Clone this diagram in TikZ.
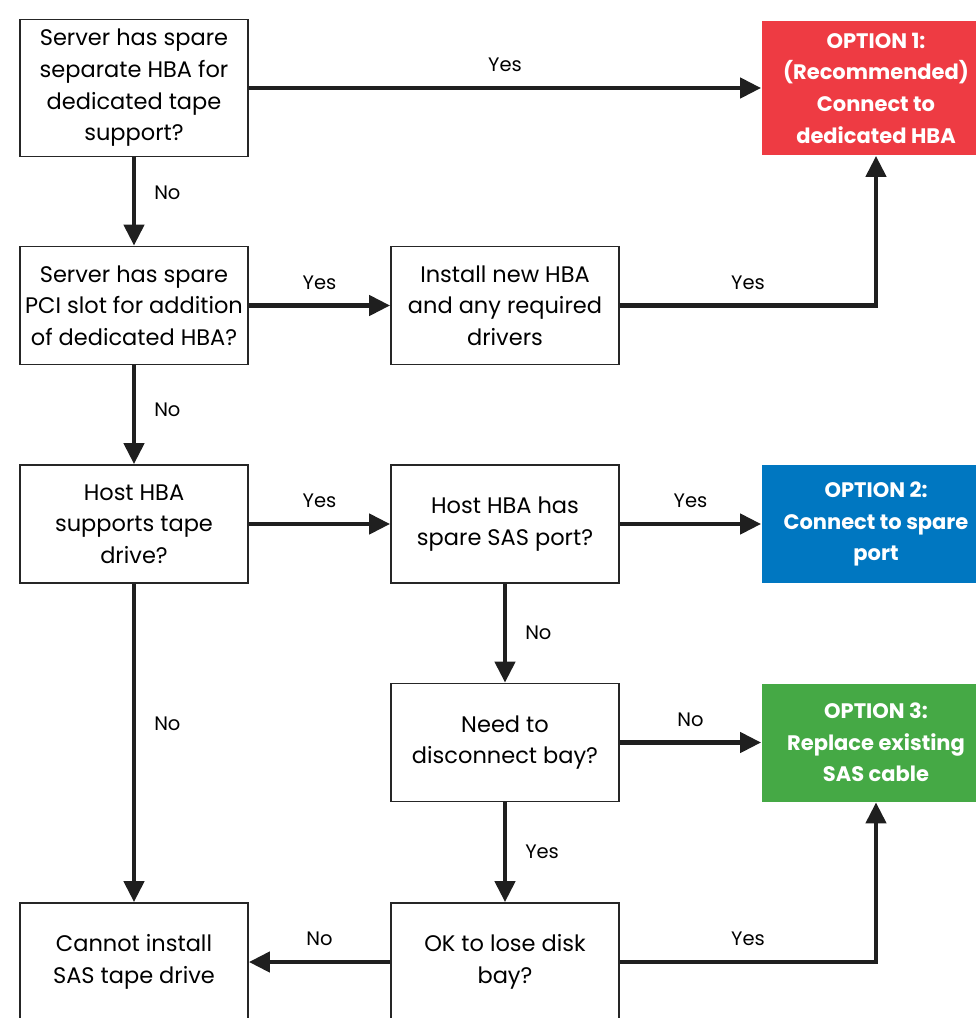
\documentclass[tikz,border=0pt]{standalone}
\usepackage{fontspec}
\setmainfont{Poppins}
\usetikzlibrary{arrows.meta}

\definecolor{optred}{HTML}{EE3B43}
\definecolor{optblue}{HTML}{0077C1}
\definecolor{optgreen}{HTML}{45A945}

\begin{document}
\begin{tikzpicture}[x=1pt,y=-1pt,
	box/.style={draw=black!85,line width=1.8pt,fill=white,minimum width=228pt,minimum height=118pt,align=center,inner sep=0pt,font=\fontsize{22.5}{31.7}\selectfont},
	option/.style={box,draw=none,text=white,font=\fontsize{21}{31.7}\selectfont\bfseries},
	flow/.style={line width=4.5pt,draw=black!88,-{Triangle[length=21pt,width=20pt]}},
	lbl/.style={font=\fontsize{19.5}{20}\selectfont,inner sep=0pt}]
	\useasboundingbox (0,0) rectangle (976,1018);
	% question boxes
	\node[box,minimum height=137pt] (srvhba) at (134,88) {Server has spare\\separate HBA for\\dedicated tape\\support?};
	\node[box] (pcislot) at (134,305.5) {Server has spare\\PCI slot for addition\\of dedicated HBA?};
	\node[box] (install) at (505,305.5) {Install new HBA\\and any required\\drivers};
	\node[box] (hostsup) at (134,524) {Host HBA\\supports tape\\drive?};
	\node[box] (spare) at (505,524) {Host HBA has\\spare SAS port?};
	\node[box] (disc) at (505,742.5) {Need to\\disconnect bay?};
	\node[box] (cannot) at (134,962) {Cannot install\\SAS tape drive};
	\node[box] (okbay) at (505,962) {OK to lose disk\\bay?};
	% options
	\node[option,fill=optred,minimum height=134pt] (opt1) at (876,88) {OPTION 1:\\(Recommended)\\Connect to\\dedicated HBA};
	\node[option,fill=optblue] (opt2) at (876,524) {OPTION 2:\\Connect to spare\\port};
	\node[option,fill=optgreen] (opt3) at (876,742.5) {OPTION 3:\\Replace existing\\SAS cable};
	% connectors
	\draw[flow] (srvhba) -- node[lbl,above=14pt]{Yes} (opt1);
	\draw[flow] (srvhba) -- node[lbl,right=18pt,pos=0.4]{No} (pcislot);
	\draw[flow] (pcislot) -- node[lbl,above=14pt]{Yes} (install);
	\draw[flow] (install.east) -- node[lbl,above=14pt]{Yes} (install.east -| opt1) -- (opt1.south);
	\draw[flow] (pcislot) -- node[lbl,right=18pt,pos=0.45]{No} (hostsup);
	\draw[flow] (hostsup) -- node[lbl,above=14pt]{Yes} (spare);
	\draw[flow] (spare) -- node[lbl,above=14pt]{Yes} (opt2);
	\draw[flow] (spare) -- node[lbl,right=18pt,pos=0.5]{No} (disc);
	\draw[flow] (disc) -- node[lbl,above=14pt]{No} (opt3);
	\draw[flow] (disc) -- node[lbl,right=18pt,pos=0.5]{Yes} (okbay);
	\draw[flow] (hostsup) -- node[lbl,right=18pt,pos=0.44]{No} (cannot);
	\draw[flow] (okbay) -- node[lbl,above=14pt]{No} (cannot);
	\draw[flow] (okbay.east) -- node[lbl,above=14pt]{Yes} (okbay.east -| opt3) -- (opt3.south);
\end{tikzpicture}
\end{document}
